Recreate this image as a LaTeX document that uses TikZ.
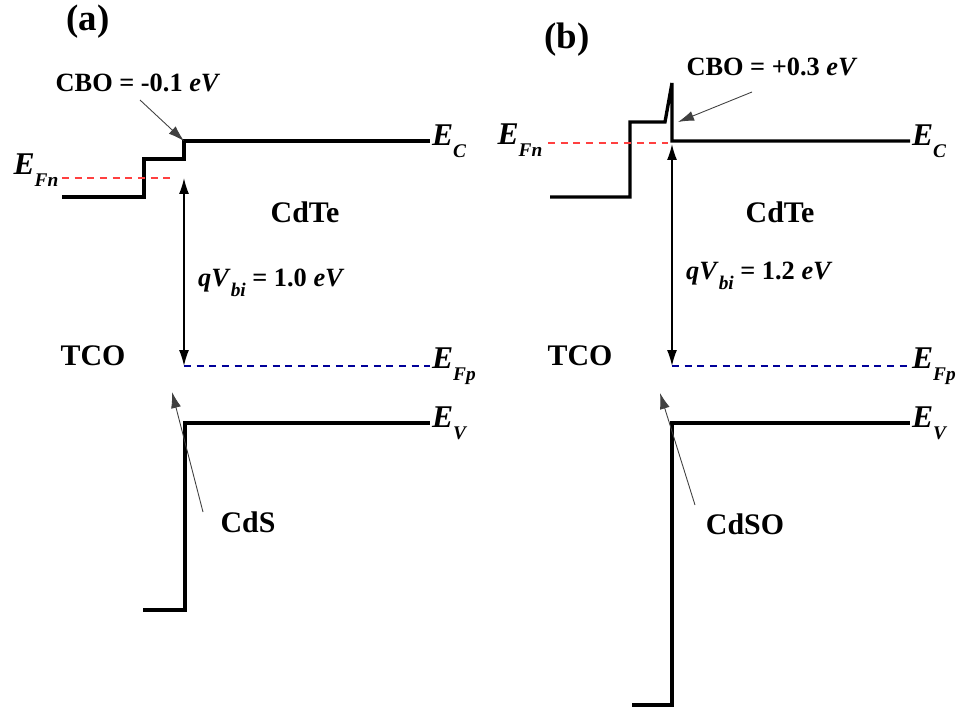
\documentclass[tikz,border=0pt]{standalone}
\usepackage{fontspec}
\setmainfont{Liberation Serif}
\usetikzlibrary{arrows.meta}

\newcommand{\lvl}[2]{\textbf{\textit{#1}}\raisebox{-0.8ex}{\fontsize{11}{12}\selectfont\textbf{\textit{#2}}}}

\begin{document}
\begin{tikzpicture}[
    x=0.02cm, y=-0.02cm,
    band/.style={line width=1.9pt, line join=miter},
    fermin/.style={red!75, line width=0.6pt, dash pattern=on 4pt off 3.2pt},
    fermip/.style={blue!60!black, line width=0.6pt, dash pattern=on 4pt off 3.2pt},
    pointer/.style={-{Latex[length=3.2mm, width=2mm]}, line width=0.5pt, black!75},
    vbi/.style={{Latex[length=3.2mm, width=2mm]}-{Latex[length=3.2mm, width=2mm]}, line width=0.9pt},
    panel/.style={font=\fontsize{21}{24}\selectfont\bfseries},
    lbl/.style={font=\fontsize{17}{20}\selectfont\bfseries},
    note/.style={font=\fontsize{15}{18}\selectfont\bfseries},
    level/.style={font=\fontsize{18}{20}\selectfont, inner sep=1pt},
]
\useasboundingbox (0,0) rectangle (964,710);

% (a) CdS
\node[panel] (pa) at (88,22) {(a)};
\coordinate (cbA) at (184,141);
\coordinate (fnA) at (184,178);
\coordinate (fpA) at (184,366);
\coordinate (vbA) at (185,423);
\draw[band] (62,197) -- (144,197) -- (144,159) -- (184,159) -- (cbA) -- (430,141) coordinate (ecA);
\draw[band] (143,610) -- (185,610) -- (vbA) -- (430,423) coordinate (evA);
\draw[fermin] (62,178) -- (173,178);
\draw[fermip] (fpA) -- (430,366) coordinate (efpA);
\draw[vbi] (fnA) -- (fpA);
\node[note] (cboA) at (138,83) {CBO = -0.1 \textit{eV}};
\draw[pointer] (140,100) -- (cbA);
\node[lbl] (cdteA) at (305,212) {CdTe};
\node[note, anchor=west] (vbiA) at (192,283) {\textbf{\textit{q}}\lvl{V}{bi} = 1.0 \textit{eV}};
\node[lbl] (tcoA) at (93,356) {TCO};
\node[lbl] (cdsA) at (248,522) {CdS};
\coordinate (cdsTip) at (172,392);
\draw[pointer] (203,512) -- (cdsTip);
\node[level, anchor=west] (lecA) at (ecA) {\lvl{E}{C}};
\node[level, anchor=west] (lfpA) at (efpA) {\lvl{E}{Fp}};
\node[level, anchor=west] (levA) at (evA) {\lvl{E}{V}};
\node[level] (lfnA) at (36,170) {\lvl{E}{Fn}};

% (b) CdSO
\node[panel] (pb) at (567,40) {(b)};
\coordinate (cbB) at (672,141);
\coordinate (fnB) at (672,144);
\coordinate (fpB) at (672,366);
\coordinate (vbB) at (672,423);
\draw[band] (550,197) -- (630,197) -- (630,122) -- (665,122) -- (672,83) -- (cbB) -- (910,141) coordinate (ecB);
\draw[band] (632,705) -- (672,705) -- (vbB) -- (910,423) coordinate (evB);
\draw[fermin] (548,143) -- (668,143);
\draw[fermip] (fpB) -- (910,366) coordinate (efpB);
\draw[vbi] (fnB) -- (fpB);
\node[note] (cboB) at (772,67) {CBO = +0.3 \textit{eV}};
\draw[pointer] (752,92) -- (678,122);
\node[lbl] (cdteB) at (780,212) {CdTe};
\node[note, anchor=west] (vbiB) at (680,276) {\textbf{\textit{q}}\lvl{V}{bi} = 1.2 \textit{eV}};
\node[lbl] (tcoB) at (580,356) {TCO};
\node[lbl] (cdsoB) at (745,524) {CdSO};
\coordinate (cdsoTip) at (660,393);
\draw[pointer] (695,505) -- (cdsoTip);
\node[level, anchor=west] (lecB) at (ecB) {\lvl{E}{C}};
\node[level, anchor=west] (lfpB) at (efpB) {\lvl{E}{Fp}};
\node[level, anchor=west] (levB) at (evB) {\lvl{E}{V}};
\node[level] (lfnB) at (520,140) {\lvl{E}{Fn}};
\end{tikzpicture}
\end{document}
